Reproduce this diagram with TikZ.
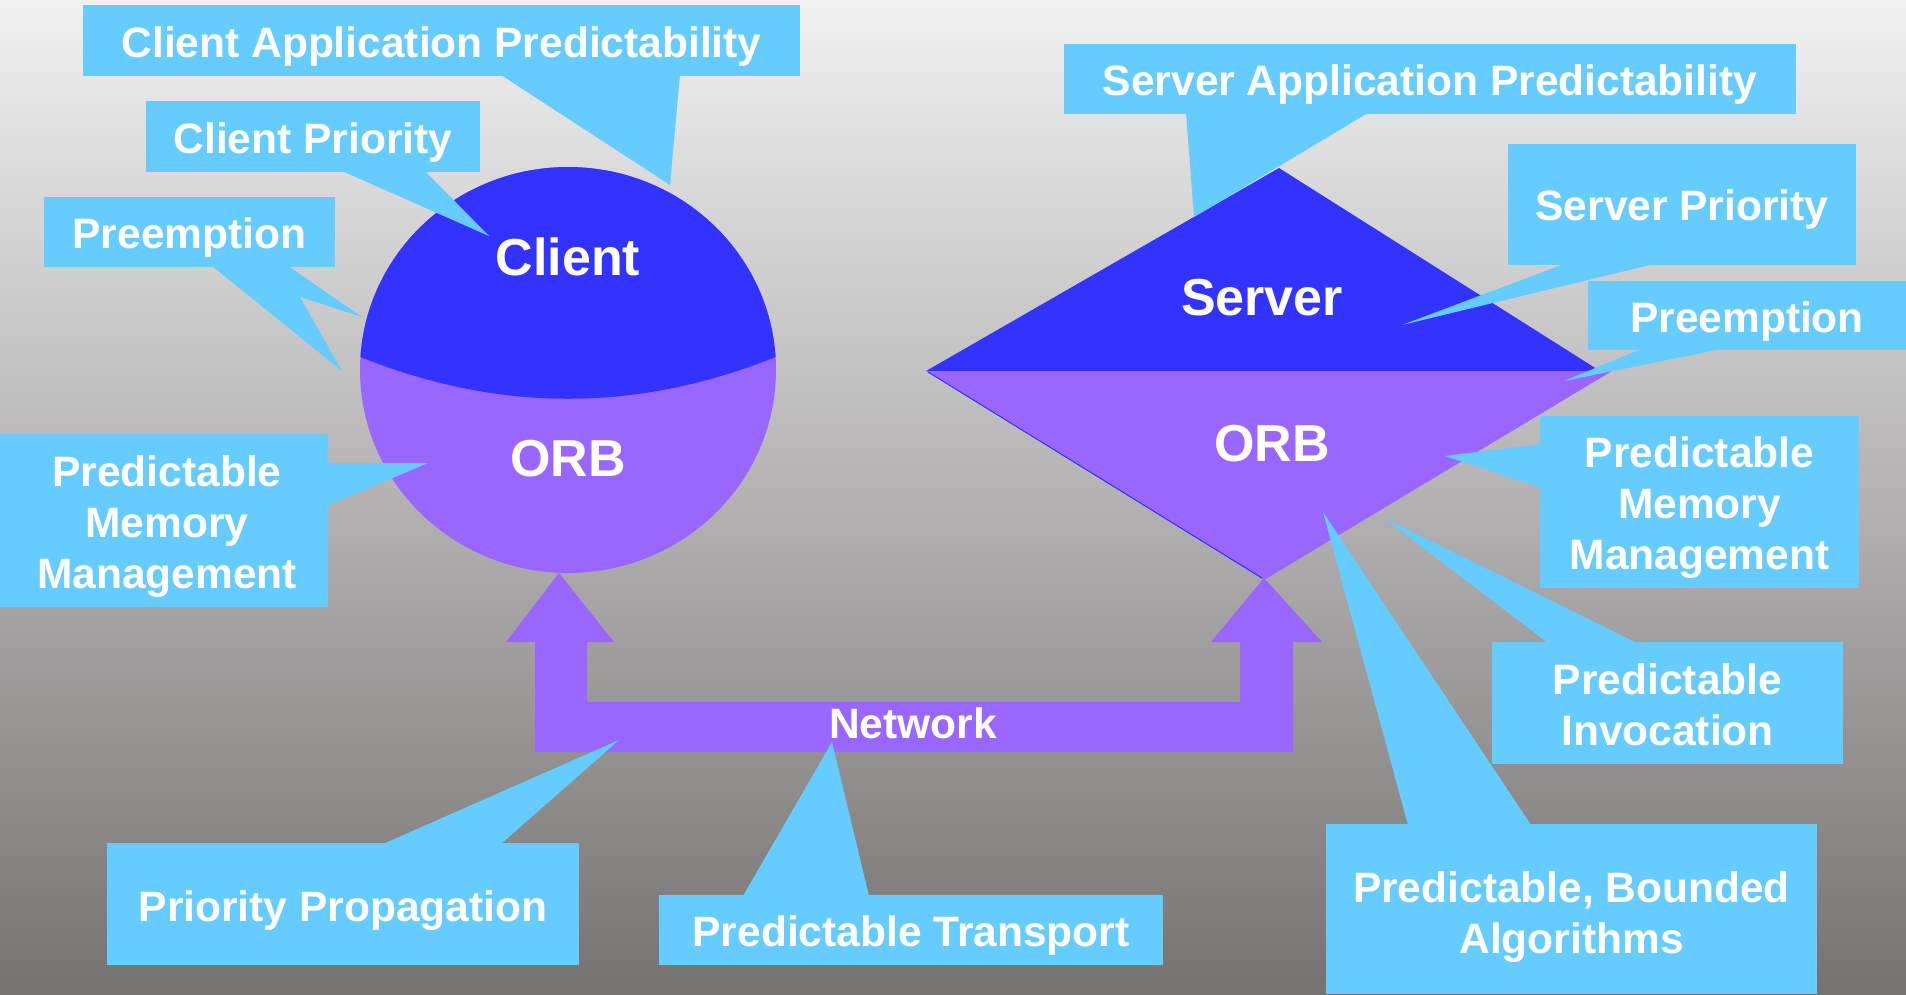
\documentclass[tikz,border=0pt]{standalone}
\usepackage{fontspec}
\setmainfont{Liberation Sans}
\definecolor{callblue}{HTML}{66CCFF}
\definecolor{clientblue}{HTML}{3333FF}
\definecolor{orbpurple}{HTML}{9966FF}
\definecolor{bgtop}{RGB}{241,241,241}
\definecolor{bgbot}{RGB}{118,114,114}
\tikzset{
  callbox/.style={fill=callblue, inner sep=0pt},
  calltext/.style={text=white, inner sep=0pt, align=center,
    font=\fontsize{42.5}{51}\selectfont\bfseries},
  pointer/.style={fill=callblue},
  biglabel/.style={text=white, inner sep=0pt, font=\fontsize{52}{62}\selectfont\bfseries},
  netlabel/.style={text=white, inner sep=0pt, font=\fontsize{42.5}{51}\selectfont\bfseries},
}
\begin{document}
\begin{tikzpicture}[x=1pt,y=-1pt]
\useasboundingbox (0,0) rectangle (1906,994);
\shade[top color=bgtop,bottom color=bgbot] (0,0) rectangle (1906,994);

% ---- Client sphere ----
\coordinate (clientc) at (568,370);
\fill[orbpurple] (clientc) ellipse [x radius=208pt, y radius=203pt];
\begin{scope}
  \clip (clientc) ellipse [x radius=208pt, y radius=203pt];
  \fill[clientblue] (358,356) .. controls (498,413) and (638,413) .. (778,356)
    -- (790,356) -- (790,150) -- (345,150) -- (345,356) -- cycle;
\end{scope}
\node[biglabel] (clientlbl) at (568,257) {Client};
\node[biglabel] (clientorb) at (568,459) {ORB};

% ---- Server diamond ----
\fill[clientblue] (926,371) -- (1279,168) -- (1600,371) -- cycle;
\fill[orbpurple] (926,371) -- (1612,371) -- (1264,580) -- cycle;
\draw[clientblue, line width=1pt] (928,372) -- (1262,578);
\node[biglabel] (serverlbl) at (1262,298) {Server};
\node[biglabel] (serverorb) at (1272,444) {ORB};

% ---- Network ----
\fill[orbpurple] (559,573) -- (614,642) -- (587,642) -- (587,702) -- (1240,702)
  -- (1240,642) -- (1211,642) -- (1264,578) -- (1322,642) -- (1293,642)
  -- (1293,752) -- (535,752) -- (535,642) -- (506,642) -- cycle;
\node[netlabel] (network) at (913,723) {Network};

% ---- Callout tails ----
\fill[pointer] (501,75) -- (670,185) -- (680,75) -- cycle;
\fill[pointer] (342,171) -- (489,236) -- (425,171) -- cycle;
\fill[pointer] (288,266) -- (362,317) -- (300,297) -- (342,371) -- (212,266) -- cycle;
\fill[pointer] (327,463) -- (428,463) -- (327,506) -- cycle;
\fill[pointer] (383,844) -- (619,740) -- (501,844) -- cycle;
\fill[pointer] (743,896) -- (832,742) -- (869,896) -- cycle;
\fill[pointer] (1186,113) -- (1194,217) -- (1368,113) -- cycle;
\fill[pointer] (1564,264) -- (1402,325) -- (1654,264) -- cycle;
\fill[pointer] (1641,349) -- (1564,381) -- (1721,349) -- cycle;
\fill[pointer] (1541,444) -- (1445,456) -- (1541,488) -- cycle;
\fill[pointer] (1548,643) -- (1384,518) -- (1637,643) -- cycle;
\fill[pointer] (1408,825) -- (1323,512) -- (1531,825) -- cycle;

% ---- Callout boxes ----
\node[callbox, minimum width=717pt, minimum height=71pt] (cap) at (441.5,40.5) {};
\node[calltext] (captext) at ([yshift=-6pt]cap.center) {Client Application Predictability};
\node[callbox, minimum width=334pt, minimum height=71pt] (cpri) at (313,136.5) {};
\node[calltext] (cpritext) at ([yshift=-6pt]cpri.center) {Client Priority};
\node[callbox, minimum width=291pt, minimum height=70pt] (prel) at (189.5,232) {};
\node[calltext] (preltext) at ([yshift=-6pt]prel.center) {Preemption};
\node[callbox, minimum width=328pt, minimum height=173pt] (pmml) at (164,520.5) {};
\node[calltext] (pmmltext) at ([xshift=3pt,yshift=-6pt]pmml.center) {Predictable\\Memory\\Management};
\node[callbox, minimum width=472pt, minimum height=122pt] (pp) at (343,904) {};
\node[calltext] (pptext) at ([yshift=-7pt]pp.center) {Priority Propagation};
\node[callbox, minimum width=504pt, minimum height=70pt] (pt) at (911,930) {};
\node[calltext] (pttext) at ([yshift=-5pt]pt.center) {Predictable Transport};
\node[callbox, minimum width=732pt, minimum height=70pt] (sap) at (1430,79) {};
\node[calltext] (saptext) at ([yshift=-6pt]sap.center) {Server Application Predictability};
\node[callbox, minimum width=348pt, minimum height=121pt] (spri) at (1682,204.5) {};
\node[calltext] (spritext) at ([yshift=-5pt]spri.center) {Server Priority};
\node[callbox, minimum width=318pt, minimum height=69pt] (prer) at (1747,315.5) {};
\node[calltext] (prertext) at ([yshift=-6pt]prer.center) {Preemption};
\node[callbox, minimum width=319pt, minimum height=172pt] (pmmr) at (1699.5,502) {};
\node[calltext] (pmmrtext) at ([yshift=-6pt]pmmr.center) {Predictable\\Memory\\Management};
\node[callbox, minimum width=351pt, minimum height=122pt] (pi) at (1667.5,703) {};
\node[calltext] (pitext) at ([yshift=-2pt]pi.center) {Predictable\\Invocation};
\node[callbox, minimum width=491pt, minimum height=170pt] (pba) at (1571.5,909) {};
\node[calltext] (pbatext) at ([yshift=-8pt]pba.center) {Predictable, Bounded\\Algorithms};
\end{tikzpicture}
\end{document}
